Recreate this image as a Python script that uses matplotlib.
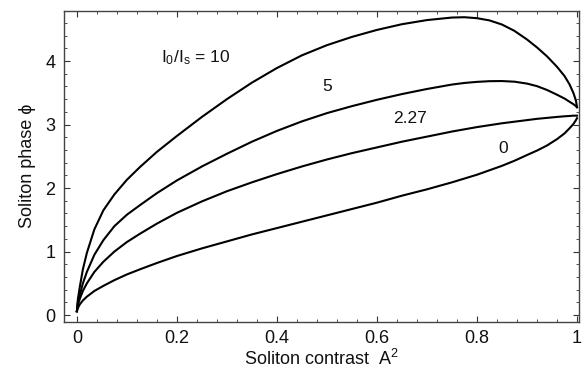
import matplotlib
matplotlib.use("Agg")
import matplotlib.pyplot as plt
from matplotlib.ticker import MultipleLocator

plt.rcParams['font.family'] = ['Liberation Sans', 'DejaVu Sans']
plt.rcParams['mathtext.fontset'] = 'custom'
plt.rcParams['mathtext.rm'] = 'Liberation Sans'
plt.rcParams['mathtext.it'] = 'Liberation Sans:italic'

# values (soliton contrast A^2 -> phase)
contrast = [0, 0.002, 0.006, 0.012, 0.02, 0.035, 0.053, 0.075, 0.1, 0.126,
            0.16, 0.2, 0.25, 0.3, 0.35, 0.4, 0.45, 0.5, 0.55, 0.6, 0.65,
            0.7, 0.75, 0.775, 0.8, 0.825, 0.85, 0.875, 0.9, 0.92, 0.94, 0.96,
            0.975, 0.985, 0.993, 0.998, 1.0]

phase_0 = [0.06, 0.11, 0.17, 0.23, 0.29, 0.38, 0.46, 0.55, 0.64, 0.72,
           0.82, 0.93, 1.05, 1.16, 1.27, 1.37, 1.47, 1.57, 1.67, 1.77, 1.88,
           1.98, 2.09, 2.15, 2.21, 2.28, 2.35, 2.43, 2.52, 2.59, 2.67, 2.77,
           2.86, 2.94, 3.01, 3.07, 3.10]

phase_227 = [0.06, 0.16, 0.26, 0.38, 0.50, 0.68, 0.84, 1.00, 1.15, 1.28,
             1.44, 1.61, 1.79, 1.95, 2.09, 2.22, 2.34, 2.45, 2.55, 2.64, 2.73,
             2.81, 2.89, 2.925, 2.96, 2.99, 3.02, 3.045, 3.07, 3.09, 3.105, 3.12,
             3.13, 3.135, 3.14, 3.14, 3.14]

phase_5 = [0.06, 0.20, 0.32, 0.50, 0.68, 0.95, 1.18, 1.40, 1.58, 1.73,
           1.92, 2.12, 2.34, 2.54, 2.73, 2.90, 3.05, 3.18, 3.29, 3.39, 3.48,
           3.56, 3.63, 3.655, 3.672, 3.683, 3.685, 3.675, 3.645, 3.605, 3.545, 3.47,
           3.41, 3.36, 3.32, 3.29, 3.27]

phase_10 = [0.06, 0.25, 0.45, 0.72, 0.98, 1.35, 1.65, 1.90, 2.13, 2.33,
            2.57, 2.82, 3.12, 3.40, 3.66, 3.89, 4.09, 4.25, 4.38, 4.49, 4.58,
            4.645, 4.685, 4.69, 4.675, 4.64, 4.575, 4.475, 4.34, 4.215, 4.075, 3.91,
            3.765, 3.635, 3.495, 3.375, 3.28]

curve_labels = [r"I$_{\mathrm{0}}$/I$_{\mathrm{s}}$ = 10", "5", "2.27", "0"]
label_x = [0.238, 0.50, 0.666, 0.853]
label_y = [4.05, 3.60, 3.10, 2.63]

fig = plt.figure(figsize=(5.86, 3.75), dpi=100)
ax = fig.add_axes([0.109, 0.142, 0.879, 0.829])

for ph in [phase_0, phase_227, phase_5, phase_10]:
    ax.plot(contrast, ph, color='black', lw=1.5, solid_joinstyle='round')

for txt, lx, ly in zip(curve_labels, label_x, label_y):
    ax.text(lx, ly, txt, fontsize=12.5, ha='center', va='center', color='#111111')

ax.set_xlim(-0.026, 1.004)
ax.set_ylim(-0.105, 4.79)
ax.xaxis.set_major_locator(MultipleLocator(0.2))
ax.xaxis.set_minor_locator(MultipleLocator(0.04))
ax.yaxis.set_major_locator(MultipleLocator(1))
ax.yaxis.set_minor_locator(MultipleLocator(0.2))
ax.set_xticks([0, 0.2, 0.4, 0.6, 0.8, 1.0])
ax.set_xticklabels(["0", "0.2", "0.4", "0.6", "0.8", "1"])

ax.tick_params(which='both', direction='in', top=True, right=True,
               colors='#333333', labelcolor='#111111', labelsize=13)
ax.tick_params(which='major', length=4, width=0.8, pad=6)
ax.tick_params(which='minor', length=2, width=0.6)
for s in ax.spines.values():
    s.set_color('#444444')
    s.set_linewidth(1.0)

ax.set_xlabel(r"Soliton contrast  A$^{\mathrm{2}}$", fontsize=13, color='#111111', labelpad=1)
ax.set_ylabel("Soliton phase ϕ", fontsize=13, color='#111111', labelpad=7)

fig.savefig("out.png", dpi=100)
